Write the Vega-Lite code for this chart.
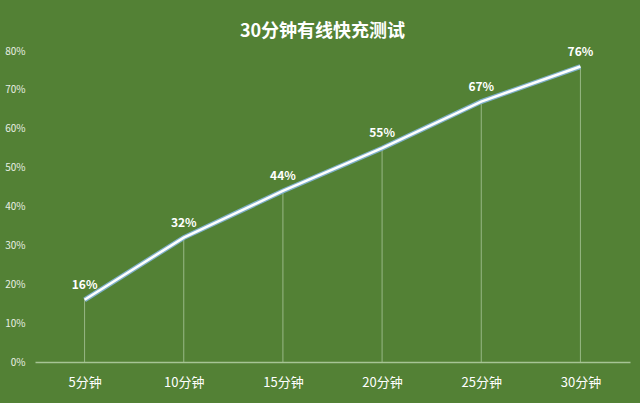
{
  "$schema": "https://vega.github.io/schema/vega-lite/v6.json",
  "autosize": "none",
  "width": 595,
  "height": 311,
  "padding": {"left": 35, "top": 51, "right": 10, "bottom": 41},
  "background": "#538135",
  "config": {
    "view": {"stroke": null},
    "font": "Noto Sans CJK SC"
  },
  "title": {
    "text": "30分钟有线快充测试",
    "fontSize": 18,
    "fontWeight": "bold",
    "color": "#ffffff",
    "offset": 5,
    "dx": -10
  },
  "data": {
    "values": [
      {"time": "5分钟", "pct": 0.16},
      {"time": "10分钟", "pct": 0.32},
      {"time": "15分钟", "pct": 0.44},
      {"time": "20分钟", "pct": 0.55},
      {"time": "25分钟", "pct": 0.67},
      {"time": "30分钟", "pct": 0.76}
    ]
  },
  "encoding": {
    "x": {
      "field": "time",
      "type": "ordinal",
      "sort": null,
      "scale": {"type": "point", "padding": 0.5},
      "axis": {
        "title": null,
        "labelAngle": 0,
        "labelColor": "#ffffff",
        "labelFontSize": 13,
        "labelPadding": 14,
        "ticks": false,
        "domainColor": "#a6c495",
        "domainWidth": 1.5
      }
    },
    "y": {
      "field": "pct",
      "type": "quantitative",
      "scale": {"domain": [0, 0.8]},
      "axis": {
        "title": null,
        "format": ".0%",
        "tickCount": 8,
        "labelColor": "#e8efe4",
        "labelFontSize": 10,
        "labelPadding": 10,
        "ticks": false,
        "domain": false,
        "grid": false
      }
    }
  },
  "layer": [
    {
      "mark": {"type": "rule", "color": "#a9c79b", "strokeWidth": 0.8},
      "encoding": {"y2": {"datum": 0}}
    },
    {
      "mark": {"type": "line", "color": "#7fb0c9", "strokeWidth": 5}
    },
    {
      "mark": {"type": "line", "color": "#ffffff", "strokeWidth": 2.5}
    },
    {
      "mark": {"type": "text", "color": "#ffffff", "fontWeight": "bold", "fontSize": 12, "dy": -15},
      "encoding": {"text": {"field": "pct", "type": "quantitative", "format": ".0%"}}
    }
  ]
}
